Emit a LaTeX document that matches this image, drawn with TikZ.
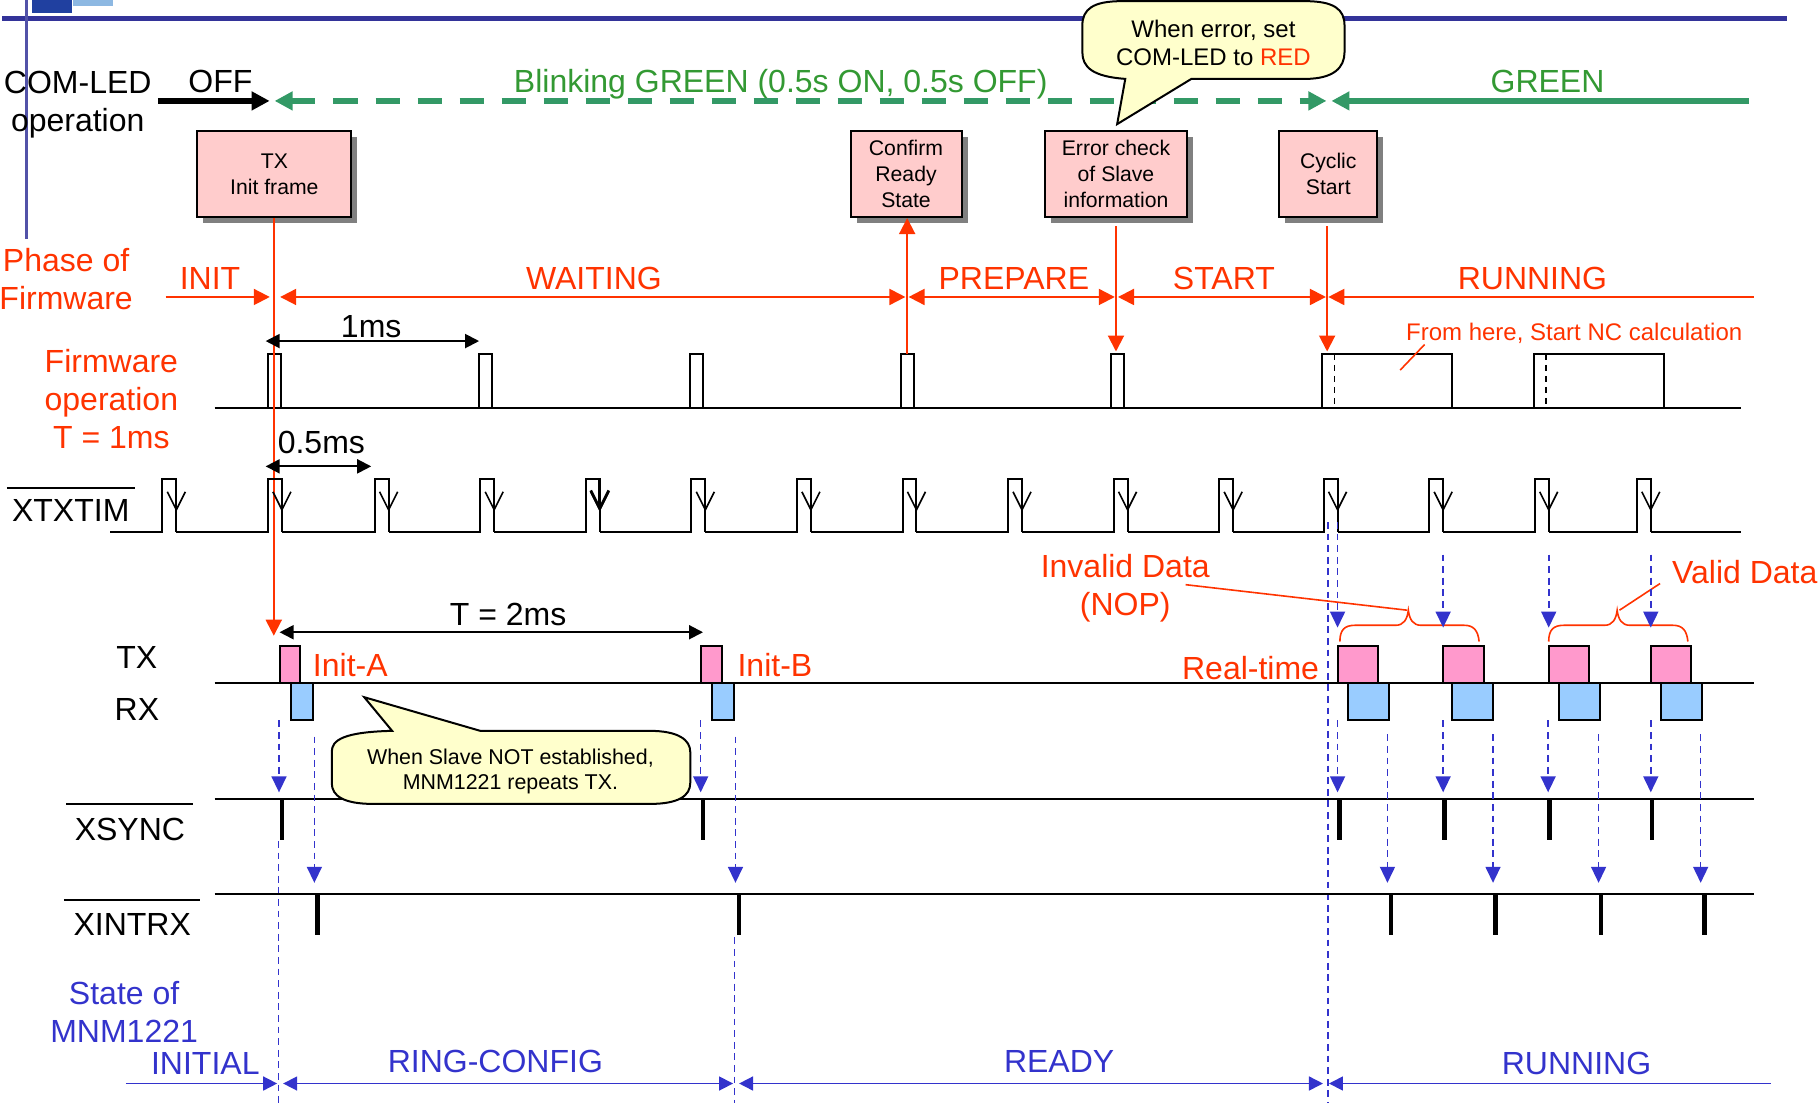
\documentclass[tikz,border=0pt]{standalone}
\usepackage{fontspec}
\setmainfont{Liberation Sans}
\usetikzlibrary{arrows.meta,shadows}
\definecolor{barblue}{HTML}{333399}
\definecolor{sigblue}{HTML}{3333CC}
\definecolor{phasered}{HTML}{FF3300}
\definecolor{ledgreen}{HTML}{339966}
\definecolor{txtgreen}{HTML}{339933}
\definecolor{boxpink}{HTML}{FFCCCC}
\definecolor{notefill}{HTML}{FFFFCC}
\definecolor{txpink}{HTML}{FF99CC}
\definecolor{rxblue}{HTML}{99CCFF}
\definecolor{logodark}{HTML}{2040A0}
\definecolor{logolight}{HTML}{8DB8E2}
\tikzset{
  bigtext/.style={font=\fontsize{16}{19}\selectfont,align=center,inner sep=0pt},
  redtext/.style={bigtext,text=phasered},
  fwbox/.style={draw,line width=1pt,fill=boxpink,align=center,inner sep=0pt,minimum height=43pt,
    font=\fontsize{10.6}{12.8}\selectfont,drop shadow={shadow xshift=3pt,shadow yshift=-3pt,fill=gray,opacity=1}},
  redtip/.style={-{Triangle[length=8pt,width=8pt]},draw=phasered,line width=1pt},
  spanred/.style={{Triangle[length=8pt,width=8pt]}-{Triangle[length=8pt,width=8pt]},draw=phasered,line width=1pt,shorten <=1pt,shorten >=.6pt},
  spanblk/.style={{Triangle[length=7pt,width=7pt]}-{Triangle[length=7pt,width=7pt]},draw=black,line width=1pt},
  spanblu/.style={{Triangle[length=7pt,width=7pt]}-{Triangle[length=7pt,width=7pt]},draw=sigblue,line width=.8pt,shorten <=1.5pt,shorten >=1.5pt},
  dashblu/.style={-{Triangle[length=8pt,width=7.5pt]},draw=sigblue,line width=.8pt,dash pattern=on 3.4pt off 2.4pt},
  longblu/.style={draw=sigblue,line width=.8pt,dash pattern=on 3.4pt off 2.4pt},
  wave/.style={draw=black,line width=1pt},
  txframe/.style={draw=black,line width=1pt,fill=txpink},
  rxframe/.style={draw=black,line width=1pt,fill=rxblue},
  note/.style={draw=black,line width=1pt,fill=notefill},
  notetext/.style={align=center,inner sep=0pt}
}
\begin{document}
\begin{tikzpicture}[x=0.58pt,y=-0.58pt]
\useasboundingbox (0,0) rectangle (1568,951);
% header
\fill[logodark] (28,0) rectangle (62,11);
\fill[logolight] (63,0) rectangle (97,5);
\draw[barblue,line width=2.7pt] (2,16) -- (1540,16);
\draw[barblue!85,line width=1.2pt] (23,0) -- (23,206);
% COM-LED row
\coordinate (ledL) at (136,87); \coordinate (ledA) at (235,87);
\coordinate (ledB) at (1146,87); \coordinate (ledR) at (1508,87);
\node[bigtext] (comled) at (67,90) {COM-LED\\operation};
\node[bigtext] (off) at (190,70) {OFF};
\node[bigtext,text=txtgreen] (blink) at (673,73) {Blinking GREEN (0.5s ON, 0.5s OFF)};
\node[bigtext,text=txtgreen] (green) at (1334,70.5) {GREEN};
\draw[-{Triangle[length=9pt,width=9pt]},line width=2.6pt,shorten >=1.5pt] (ledL) -- (ledA);
\draw[{Triangle[length=9pt,width=9pt]}-{Triangle[length=9pt,width=9pt]},ledgreen,line width=2.7pt,dash pattern=on 12pt off 9pt,shorten <=1pt,shorten >=1.5pt] (ledA) -- (ledB);
\draw[{Triangle[length=9pt,width=9pt]}-,ledgreen,line width=2.7pt,shorten <=1pt] (ledB) -- (ledR);
% firmware boxes
\node[fwbox,minimum width=77pt] (txinit) at (236.5,150) {TX\\Init frame};
\node[fwbox,minimum width=55.5pt] (confirm) at (781,150) {Confirm\\Ready\\State};
\node[fwbox,minimum width=71pt] (errchk) at (962,150) {Error check\\of Slave\\information};
\node[fwbox,minimum width=49pt] (cyclic) at (1145,150) {Cyclic\\Start};
% phase row
\node[redtext] (phase) at (57,240.5) {Phase of\\Firmware};
\node[redtext] (pinit) at (181,240) {INIT};
\node[redtext] (pwait) at (512,240) {WAITING};
\node[redtext] (pprep) at (874,240) {PREPARE};
\node[redtext] (pstart) at (1055,240) {START};
\node[redtext] (prun) at (1321,240) {RUNNING};
\foreach \pname/\px in {L/141,A/236,B/781.5,C/962,D/1144,R/1512} \coordinate (ph\pname) at (\px,256);
\draw[spanred,-{Triangle[length=8pt,width=8pt]},shorten >=2pt] (phL) -- (phA);
\draw[spanred,shorten <=3.2pt] (phA) -- (phB);
\draw[spanred] (phB) -- (phC);
\draw[spanred] (phC) -- (phD);
\draw[spanred,{Triangle[length=8pt,width=8pt]}-,shorten <=.6pt,shorten >=0pt] (phD) -- (phR);
% firmware operation
\node[redtext] (fwop) at (96,344) {Firmware\\operation\\T = 1ms};
\draw[wave] (185,352) -- (1501,352);
\foreach \px in {231,413,595,777,958} \draw[wave,fill=white] (\px,352) rectangle (\px+11,305);
\foreach \px in {1140,1322} {
  \draw[wave,fill=white] (\px,352) rectangle (\px+112,305);
  \draw[black,line width=.8pt,dash pattern=on 3pt off 2.5pt] (\px+10.5,305) -- (\px+10.5,352);
}
\coordinate (fwA) at (236,548); \coordinate (fwB) at (782,305); \coordinate (fwC) at (962,303); \coordinate (fwD) at (1144,303);
\coordinate (errtop) at (962,195); \coordinate (cyctop) at (1144,195); \coordinate (conftop) at (782,188);
\draw[redtip] (txinit.south -| fwA) -- (fwA);
\draw[redtip] (fwB) -- (conftop);
\draw[redtip] (errtop) -- (fwC);
\draw[redtip] (cyctop) -- (fwD);
\node[font=\fontsize{12}{14}\selectfont,text=phasered,inner sep=0pt] (fromhere) at (1357,287) {From here, Start NC calculation};
\coordinate (fromend) at (1207,319); \coordinate (fromst) at (1228,297);
\draw[phasered,line width=.8pt] (fromst) -- (fromend);
% time spans
\coordinate (msA) at (229,294); \coordinate (msB) at (413,294);
\coordinate (hmA) at (229,402); \coordinate (hmB) at (320,402);
\coordinate (tmA) at (241,545); \coordinate (tmB) at (606,545);
\node[bigtext] (onems) at (320,282) {1ms};
\node[bigtext] (halfms) at (277,381) {0.5ms};
\node[bigtext] (twoms) at (438,530) {T = 2ms};
\draw[spanblk] (msA) -- (msB);
\draw[spanblk] (hmA) -- (hmB);
\draw[spanblk] (tmA) -- (tmB);
% XTXTIM
\node[bigtext] (xtx) at (61,440) {XTXTIM};
\draw[wave] (6,421) -- (116,421);
\foreach \px [remember=\px as \lastx (initially 83)] in {140,231,323,414,505,596,687,778,869,960,1051,1141,1232,1323,1411} {
  \draw[wave] (\lastx+12,459) -- (\px,459) -- (\px,413) -- (\px+12,413) -- (\px+12,459);
  \draw[-{Straight Barb[length=9pt,width=9pt]},line width=.8pt] (\px+12,413) -- (\px+12,441);
}
\draw[wave] (1423,459) -- (1501,459);
\draw[-{Straight Barb[length=9pt,width=9pt]},line width=1.4pt] (517,413) -- (517,441);
% long dashed markers
\coordinate (msS) at (1145,450); \coordinate (msE) at (1145,951);
\coordinate (iniS) at (240,725); \coordinate (iniE) at (240,951);
\coordinate (cfgS) at (633,808); \coordinate (cfgE) at (633,951);
\draw[longblu] (msS) -- (msE);
\draw[longblu] (iniS) -- (iniE);
\draw[longblu] (cfgS) -- (cfgE);
% frames
\node[bigtext] (txlbl) at (118,567) {TX};
\node[bigtext] (rxlbl) at (118,612) {RX};
\draw[wave] (185,589) -- (1512,589);
\draw[wave] (185,689) -- (1512,689);
\draw[wave] (185,771) -- (1512,771);
\foreach \px in {241,604} {
  \draw[txframe] (\px,589) rectangle (\px+18,557);
  \draw[rxframe] (\px+10,589) rectangle (\px+29,621);
}
\foreach \px/\qx in {1153/1162,1244/1252,1335/1344,1423/1432} {
  \draw[txframe] (\px,589) rectangle (\px+35,557);
  \draw[rxframe] (\qx,589) rectangle (\qx+35,621);
}
\node[redtext] (inita) at (302,573) {Init-A};
\node[redtext] (initb) at (668,573) {Init-B};
\node[redtext] (rtime) at (1078,576) {Real-time};
\node[redtext] (invalid) at (970,507) {Invalid Data\\(NOP)};
\node[redtext] (valid) at (1504,493) {Valid Data};
% braces
\foreach \bx in {1155,1335}
  \draw[phasered,line width=.8pt] (\bx,553) .. controls (\bx,543) and (\bx+4,539) .. (\bx+13,539) -- (\bx+48,539)
    .. controls (\bx+55,539) and (\bx+58,534) .. (\bx+59,526) .. controls (\bx+60,534) and (\bx+63,539) .. (\bx+70,539)
    -- (\bx+107,539) .. controls (\bx+115,539) and (\bx+119,543) .. (\bx+120,553);
\coordinate (invS) at (1022,504); \coordinate (invE) at (1213,526);
\coordinate (valS) at (1431,503); \coordinate (valE) at (1396,526);
\draw[phasered,line width=.8pt] (invS) -- (invE);
\draw[phasered,line width=.8pt] (valS) -- (valE);
% slave note
\draw[note] (338,630) -- (314,601) -- (414,630) -- (560,630) .. controls (585,630) and (595,638) .. (595,648) -- (595,675)
  .. controls (595,686) and (585,693) .. (560,693) -- (322,693) .. controls (296,693) and (286,686) .. (286,675) -- (286,648)
  .. controls (286,638) and (296,631) .. (338,630) -- cycle;
\node[notetext,font=\fontsize{10.7}{12.7}\selectfont] (slavenote) at (440,665) {When Slave NOT established,\\MNM1221 repeats TX.};
% error note
\draw[note] (970,68) -- (963,107) -- (1027,68) -- (1125,68) .. controls (1150,68) and (1159,58) .. (1159,45) -- (1159,22)
  .. controls (1159,8) and (1150,1) .. (1125,1) -- (967,1) .. controls (942,1) and (933,8) .. (933,22) -- (933,45)
  .. controls (933,58) and (942,66) .. (970,68) -- cycle;
\node[notetext,font=\fontsize{12}{14}\selectfont] (errnote) at (1046,37) {When error, set\\COM-LED to \textcolor{phasered}{RED}};
% sync lines
\node[bigtext] (xsync) at (112,715) {XSYNC};
\draw[wave] (57,693) -- (166,693);
\node[bigtext] (xint) at (114,797) {XINTRX};
\draw[wave] (55,776) -- (172,776);
\foreach \px in {243,606,1155,1245,1336,1424} \draw[line width=2.4pt] (\px,689) -- (\px,724);
\foreach \px in {274,637,1199,1289,1380,1469} \draw[line width=2.4pt] (\px,771) -- (\px,806);
\foreach \px [count=\pn] in {240.5,604,1153,1244,1334.5,1423} {
  \coordinate (sy\pn) at (\px,621); \coordinate (se\pn) at (\px,683);
  \draw[dashblu] (sy\pn) -- (se\pn);
}
\foreach \px/\py in {271/635,634/635,1196/633,1287/633,1378/633,1466/633} {
  \coordinate (iy\px) at (\px,\py); \coordinate (ie\px) at (\px,761);
  \draw[dashblu] (iy\px) -- (ie\px);
}
\foreach \px/\py in {1153/450,1244/478,1335/478,1423/478} {
  \coordinate (ty\px) at (\px,\py); \coordinate (te\px) at (\px,541);
  \draw[dashblu] (ty\px) -- (te\px);
}
% state row
\node[bigtext,text=sigblue] (state) at (107,872.5) {State of\\MNM1221};
\node[bigtext,text=sigblue] (sinit) at (177,917) {INITIAL};
\node[bigtext,text=sigblue] (sring) at (427,915) {RING-CONFIG};
\node[bigtext,text=sigblue] (sready) at (913,915) {READY};
\node[bigtext,text=sigblue] (srun) at (1359,917) {RUNNING};
\foreach \sname/\px in {L/106,A/241.5,B/634.5,C/1143,R/1529} \coordinate (st\sname) at (\px,934);
\draw[spanblu,-{Triangle[length=7pt,width=7pt]}] (stL) -- (stA);
\draw[spanblu] (stA) -- (stB);
\draw[spanblu] (stB) -- (stC);
\draw[spanblu,{Triangle[length=7pt,width=7pt]}-] (stC) -- (stR);
\end{tikzpicture}
\end{document}
